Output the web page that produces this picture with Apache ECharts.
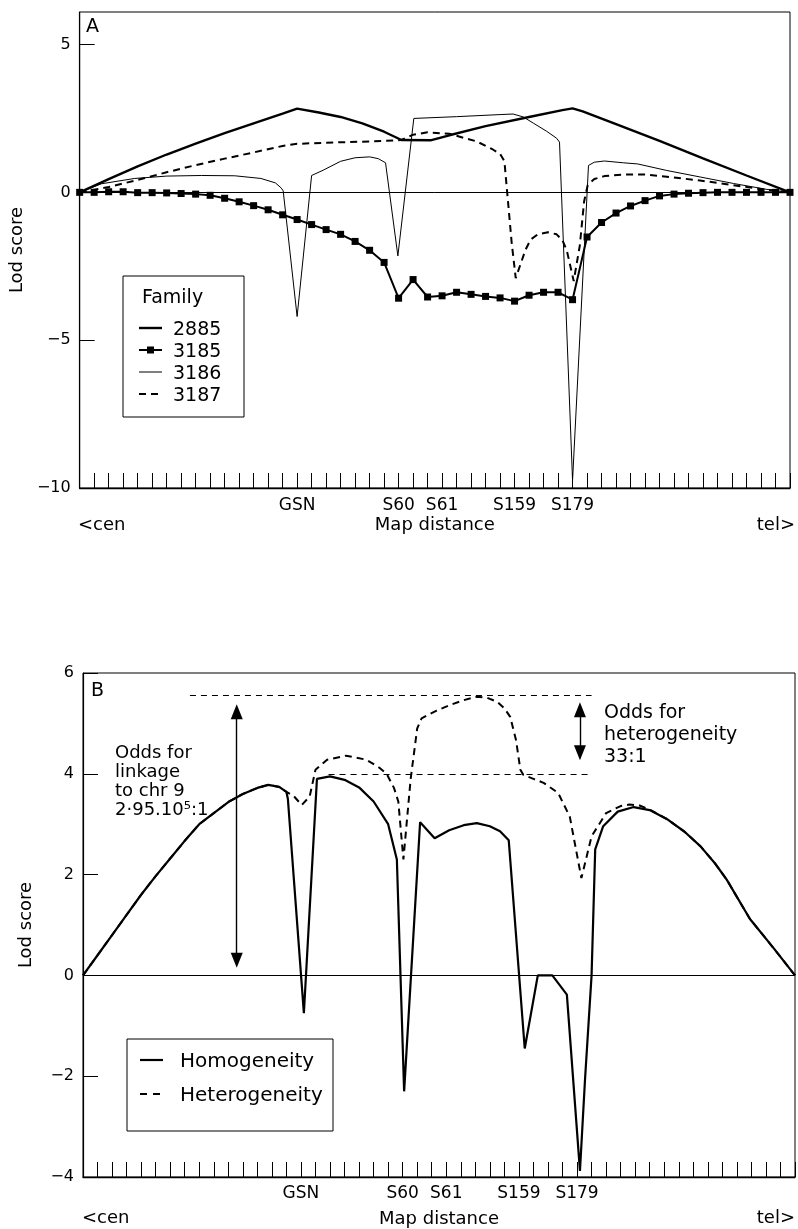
<!DOCTYPE html>
<html>
<head>
<meta charset="utf-8">
<script src="https://cdn.jsdelivr.net/npm/echarts@6/dist/echarts.min.js"></script>
<style>
html, body { margin: 0; padding: 0; background: #fff; }
#chart { width: 798px; height: 1229px; }
</style>
</head>
<body>
<div id="chart"></div>
<script>
// x positions are tick indices (0..49) along the map, markers sit on ticks
var markerTicks = [15, 22, 25, 30, 34];
var markerNames = ['GSN', 'S60', 'S61', 'S159', 'S179'];

// panel A: lod score per family, [position, lod]
var fam2885 = [[0,0],[2,0.45],[4,0.88],[6,1.28],[8,1.65],[10,2.0],[12,2.33],[14,2.66],[15,2.83],
  [16.5,2.7],[18,2.55],[19.5,2.33],[21,2.05],[22.2,1.77],[24.2,1.76],[25.5,1.93],[28,2.24],[31,2.55],
  [33.3,2.78],[34,2.84],[34.7,2.74],[37,2.31],[40,1.74],[43,1.15],[46,0.57],[49,0]];
// 3185 has one point on every tick
var fam3185 = [0, 0, 0.02, 0.02, -0.01, -0.01, -0.02, -0.04, -0.06, -0.1,
  -0.2, -0.32, -0.45, -0.59, -0.76, -0.92, -1.09, -1.26, -1.42, -1.66,
  -1.96, -2.37, -3.58, -2.95, -3.54, -3.5, -3.38, -3.45, -3.52, -3.57,
  -3.68, -3.48, -3.38, -3.38, -3.63, -1.51, -1.02, -0.7, -0.46, -0.28,
  -0.12, -0.06, -0.03, -0.01, 0, 0, 0, 0, 0, 0];
var fam3186 = [[0,0],[1.5,0.29],[3.8,0.47],[6,0.55],[8.4,0.57],[10.7,0.56],[12.5,0.47],[13.5,0.32],
  [13.9,0.15],[14.04,0.05],[15,-4.2],[16,0.57],[16.8,0.75],[18,1.05],[19,1.17],[20,1.2],[20.6,1.14],
  [21.1,1.0],[21.95,-2.15],[23.05,2.5],[26,2.56],[29,2.63],[29.9,2.65],[30.6,2.55],[31.3,2.34],
  [32.2,2.07],[32.9,1.83],[33.1,1.7],[34,-9.75],[35.1,0.91],[35.5,1.02],[36.2,1.06],[37.5,1.0],
  [38.5,0.96],[40.5,0.74],[42.8,0.52],[45.1,0.3],[47.4,0.1],[49,0]];
var fam3187 = [[0,0],[2,0.18],[4,0.42],[6,0.68],[8,0.92],[10,1.14],[12,1.35],[14,1.57],[15,1.64],
  [17,1.68],[20,1.72],[22.2,1.77],[23,1.95],[24,2.03],[25.5,1.98],[27.4,1.72],[28.5,1.45],[29,1.3],
  [29.3,1.05],[29.8,-1.7],[30.08,-2.9],[30.75,-1.95],[31.1,-1.6],[31.6,-1.42],[32.3,-1.35],
  [32.9,-1.42],[33.3,-1.62],[33.6,-1.96],[34.08,-3.0],[34.5,-1.8],[34.8,-0.3],[35.05,0.25],
  [35.5,0.45],[36.2,0.55],[37.5,0.6],[39,0.6],[40.5,0.53],[42.8,0.4],[45,0.25],[47,0.11],[49,0]];

// panel B: combined lod scores
var homogeneity = [[0,0],[1,0.4],[2,0.8],[3,1.2],[4,1.6],[5,1.97],[6,2.32],[7,2.67],[8,3.0],[9,3.22],
  [10,3.44],[11,3.6],[12,3.72],[12.75,3.78],[13.5,3.74],[14,3.64],[14.1,3.5],[15.2,-0.75],[16.1,3.9],
  [17,3.95],[18,3.88],[19,3.73],[20,3.45],[21,3.0],[21.6,2.3],[22.1,-2.3],[23.2,3.04],[24.2,2.72],
  [25.2,2.88],[26.2,2.98],[27.1,3.02],[28,2.96],[28.7,2.86],[29.3,2.68],[30.4,-1.45],[31.3,0],
  [32.3,0],[33.3,-0.38],[34.2,-3.88],[34.55,-2.06],[35,0],[35.25,2.5],[35.8,2.96],[36.8,3.25],
  [37.9,3.34],[39,3.28],[40.2,3.1],[41.4,2.85],[42.5,2.56],[43.5,2.22],[44.3,1.9],[45.9,1.12],
  [47.5,0.55],[49,0]];
var heterogeneity = [[0,0],[1,0.4],[2,0.8],[3,1.2],[4,1.6],[5,1.97],[6,2.32],[7,2.67],[8,3.0],[9,3.22],
  [10,3.44],[11,3.6],[12,3.72],[12.75,3.78],[13.5,3.74],[14,3.64],[14.5,3.56],[15.05,3.38],[15.6,3.55],
  [16,4.08],[16.8,4.28],[18.1,4.36],[19.5,4.28],[20.4,4.12],[20.9,4.0],[21.4,3.72],[21.7,3.45],
  [22.05,2.3],[22.55,3.9],[23,4.9],[23.3,5.1],[24.3,5.25],[25.3,5.37],[26.2,5.46],[27.1,5.53],
  [27.8,5.51],[28.5,5.43],[29,5.3],[29.4,5.13],[29.8,4.67],[30.1,4.08],[30.3,3.98],[31,3.9],
  [31.7,3.82],[32.7,3.62],[33.5,3.15],[34.3,1.93],[35,2.76],[36,3.22],[37,3.36],[37.6,3.39],
  [38.3,3.37],[39,3.29],[40.2,3.1],[41.4,2.85],[42.5,2.56],[43.5,2.22],[44.3,1.9],[45.9,1.12],
  [47.5,0.55],[49,0]];

// reference levels and odds arrows in panel B
var maxHetLine = [[7.36, 5.55], [35, 5.55]];
var maxHomLine = [[16.9, 4.0], [34.9, 4.0]];
var linkageArrow = [[10.58, 0.3], [10.58, 5.23]];
var hetArrow = [[34.2, 4.42], [34.2, 5.27]];

var FONT = 'DejaVu Sans';
var chart = echarts.init(document.getElementById('chart'));

function xAxisFor(gridIndex, labelMargin, nameGap) {
  return {
    type: 'value', gridIndex: gridIndex, min: 0, max: 49, interval: 1,
    name: 'Map distance', nameLocation: 'middle', nameGap: nameGap,
    nameTextStyle: { fontFamily: FONT, fontSize: 18, color: '#000' },
    axisLine: { show: true, onZero: false, lineStyle: { color: '#000', width: 1.4 } },
    axisTick: { show: true, inside: true, length: 15, lineStyle: { color: '#000', width: 1 } },
    axisLabel: {
      margin: labelMargin, fontFamily: FONT, fontSize: 17, color: '#000',
      formatter: function (v) {
        var k = markerTicks.indexOf(v);
        return k < 0 ? '' : markerNames[k];
      }
    },
    splitLine: { show: false }
  };
}

function yAxisFor(gridIndex, min, max, interval) {
  return {
    type: 'value', gridIndex: gridIndex, min: min, max: max, interval: interval,
    name: 'Lod score', nameLocation: 'middle', nameGap: 48,
    nameTextStyle: { fontFamily: FONT, fontSize: 18, color: '#000' },
    axisLine: { show: true, onZero: false, lineStyle: { color: '#000', width: 1.2 } },
    axisTick: { show: true, inside: true, length: 15, lineStyle: { color: '#000', width: 1 } },
    axisLabel: {
      margin: 9, fontFamily: FONT, fontSize: 16, color: '#000', showMaxLabel: interval === 2,
      formatter: function (v) { return String(v).replace('-', '\u2212'); }
    },
    splitLine: { show: false }
  };
}

function lineSeries(name, data, xi, width, dashed) {
  return {
    name: name, type: 'line', xAxisIndex: xi, yAxisIndex: xi, data: data,
    symbol: 'none', color: '#000', animation: false, silent: true,
    lineStyle: { color: '#000', width: width, type: dashed ? [7, 5] : 'solid' }
  };
}

var arrowEnd = { symbol: 'triangle', symbolSize: [12, 15] };
function arrowLine(pts) {
  return [
    Object.assign({ coord: pts[0] }, arrowEnd),
    Object.assign({ coord: pts[1] }, arrowEnd)
  ];
}
function levelLine(pts) {
  return [
    { coord: pts[0], symbol: 'none', lineStyle: { type: [6, 5], width: 1 } },
    { coord: pts[1], symbol: 'none' }
  ];
}

// legend samples are drawn by hand, the legend component only lays out the names
function sample(x1, x2, y, width, dash) {
  return { type: 'line', shape: { x1: x1, y1: y, x2: x2, y2: y }, z: 10,
    style: { stroke: '#000', lineWidth: width, lineDash: dash || null } };
}

var s2885 = lineSeries('2885', fam2885, 0, 2.4, false);
s2885.markLine = {
  silent: true, symbol: 'none', animation: false, label: { show: false },
  lineStyle: { color: '#000', width: 1, type: 'solid' },
  data: [{ yAxis: 0 }]
};
var s3185 = lineSeries('3185', fam3185.map(function (v, i) { return [i, v]; }), 0, 2, false);
s3185.symbol = 'rect';
s3185.symbolSize = 7;
s3185.itemStyle = { color: '#000' };

var sHom = lineSeries('Homogeneity', homogeneity, 1, 2.2, false);
sHom.markLine = {
  silent: true, symbol: 'none', animation: false, label: { show: false },
  lineStyle: { color: '#000', width: 1.4, type: 'solid' },
  data: [
    [{ coord: [0, 0], symbol: 'none', lineStyle: { width: 1 } }, { coord: [49, 0], symbol: 'none' }],
    levelLine(maxHetLine),
    levelLine(maxHomLine),
    arrowLine(linkageArrow),
    arrowLine(hetArrow)
  ]
};

var option = {
  backgroundColor: '#fff',
  animation: false,
  grid: [
    { left: 78, top: 12, width: 712, height: 476, show: true, borderColor: '#000', borderWidth: 1 },
    { left: 83, top: 673, width: 712, height: 504, show: true, borderColor: '#000', borderWidth: 1 }
  ],
  xAxis: [xAxisFor(0, 9, 28), xAxisFor(1, 8, 33)],
  yAxis: [yAxisFor(0, -10, 6.1, 5), yAxisFor(1, -4, 6, 2)],
  legend: [
    {
      data: ['2885', '3185', '3186', '3187'], icon: 'none',
      orient: 'vertical', left: 139, top: 316,
      itemWidth: 24, itemHeight: 9, itemGap: 3, selectedMode: false,
      textStyle: { fontFamily: FONT, fontSize: 19, color: '#000', lineHeight: 19 }
    },
    {
      data: ['Homogeneity', 'Heterogeneity'], icon: 'none',
      orient: 'vertical', left: 140, top: 1047,
      itemWidth: 23, itemHeight: 9, itemGap: 14, selectedMode: false,
      textStyle: { fontFamily: FONT, fontSize: 20, color: '#000', lineHeight: 20, padding: [0, 0, 0, 7] }
    }
  ],
  graphic: [
    { type: 'rect', shape: { x: 123, y: 276, width: 121, height: 141 }, style: { fill: '#fff', stroke: '#000', lineWidth: 1 }, z: 0 },
    { type: 'rect', shape: { x: 127, y: 1039, width: 206, height: 92 }, style: { fill: '#fff', stroke: '#000', lineWidth: 1 }, z: 0 },
    sample(139, 162, 328, 2.4),
    sample(139, 162, 350, 2),
    { type: 'rect', shape: { x: 147, y: 346.5, width: 7, height: 7 }, style: { fill: '#000' }, z: 10 },
    sample(139, 162, 372, 1),
    sample(139, 162, 394, 2, [7, 5]),
    sample(140, 163, 1060, 2.2),
    sample(140, 162, 1094, 2, [7, 6]),
    { type: 'text', left: 142, top: 289, style: { text: 'Family', fontFamily: FONT, fontSize: 19, fill: '#000' } },
    { type: 'text', left: 86, top: 18, style: { text: 'A', fontFamily: FONT, fontSize: 19, fill: '#000' } },
    { type: 'text', left: 91, top: 682, style: { text: 'B', fontFamily: FONT, fontSize: 19, fill: '#000' } },
    { type: 'text', left: 78, top: 516, style: { text: '<cen', fontFamily: FONT, fontSize: 18, fill: '#000' } },
    { type: 'text', right: 3, top: 516, style: { text: 'tel>', fontFamily: FONT, fontSize: 18, fill: '#000' } },
    { type: 'text', left: 82, top: 1209, style: { text: '<cen', fontFamily: FONT, fontSize: 18, fill: '#000' } },
    { type: 'text', right: 3, top: 1209, style: { text: 'tel>', fontFamily: FONT, fontSize: 18, fill: '#000' } },
    { type: 'text', left: 115, top: 744, style: { text: 'Odds for\nlinkage\nto chr 9\n2\u00b795.10\u2075:1', fontFamily: FONT, fontSize: 18, lineHeight: 19, fill: '#000' } },
    { type: 'text', left: 604, top: 702, style: { text: 'Odds for\nheterogeneity\n33:1', fontFamily: FONT, fontSize: 19, lineHeight: 22, fill: '#000' } }
  ],
  series: [
    s2885,
    s3185,
    lineSeries('3186', fam3186, 0, 1, false),
    lineSeries('3187', fam3187, 0, 2, true),
    sHom,
    lineSeries('Heterogeneity', heterogeneity, 1, 2, true)
  ]
};
chart.setOption(option);
</script>
</body>
</html>
